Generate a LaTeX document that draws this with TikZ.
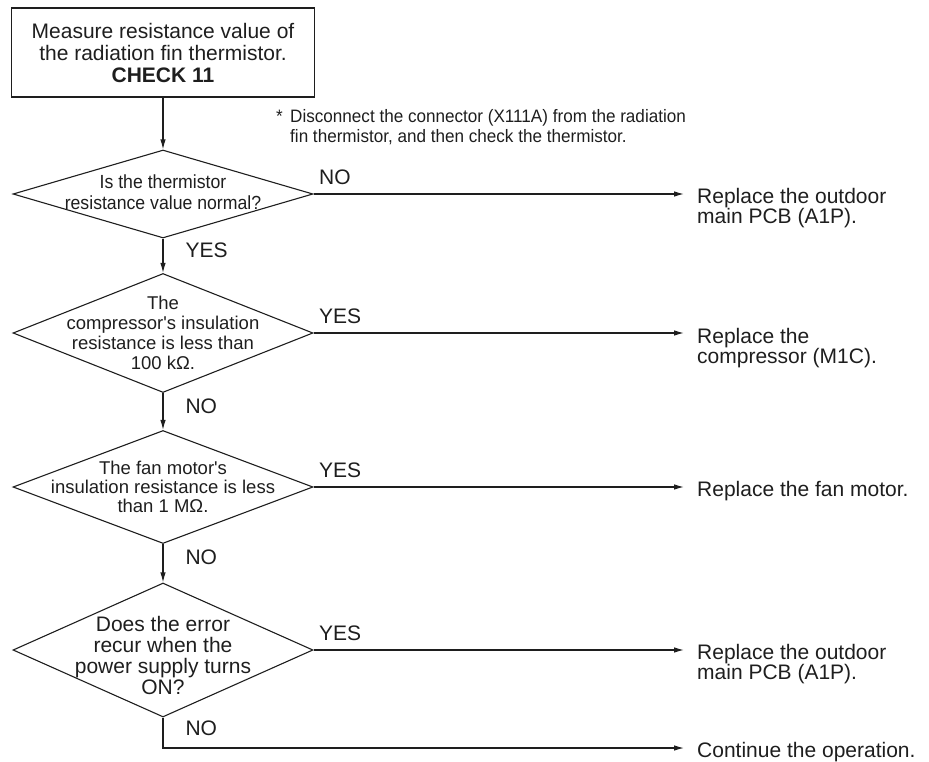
\documentclass[tikz,border=0pt]{standalone}
\usepackage{fontspec}
\setmainfont{Liberation Sans}
\newfontfamily\narrowfont[FakeStretch=0.93]{Liberation Sans}
\newfontfamily\notefont[FakeStretch=0.95]{Liberation Sans}
\usepackage{xcolor}
\usepackage{tikz}
\usetikzlibrary{arrows.meta, positioning, shapes.geometric}
\definecolor{InkDark}{RGB}{30, 30, 30}
\tikzset{
  stepbox/.style={draw=InkDark, line width=1.1pt, minimum width=303pt, minimum height=89pt,
    inner sep=0pt, align=center, text=InkDark, font=\fontsize{21}{22}\selectfont},
  decision/.style={draw=InkDark, line width=1.1pt, diamond, minimum width=300pt, inner sep=0pt},
  dtext/.style={align=center, inner sep=0pt, text=InkDark},
  flow/.style={draw=InkDark, line width=1.1pt, -{Latex[length=10pt, width=5.5pt]}},
  lbl/.style={font=\fontsize{21}{21}\selectfont, inner sep=0pt, text=InkDark},
  result/.style={anchor=north west, inner xsep=13pt, inner ysep=0pt, align=left,
    text=InkDark, font=\fontsize{21}{20}\selectfont}
}

\begin{document}
\begin{tikzpicture}[x=1pt, y=-1pt]
      \useasboundingbox (0,0) rectangle (929,762);
      \node[stepbox] (check) at (163,52.5)
            {Measure resistance value of\\the radiation fin thermistor.\\\textbf{CHECK 11}};
      \node[anchor=north west, inner sep=0pt, align=left, text=InkDark,
            font=\notefont\fontsize{18}{20}\selectfont] (note) at (276,109)
            {\makebox[14pt][l]{*}Disconnect the connector (X111A) from the radiation\\\hspace*{14pt}fin thermistor, and then check the thermistor.};
      \node[decision, minimum height=88pt,
            label={[dtext, font=\narrowfont\fontsize{19}{21}\selectfont, yshift=2pt]center:Is the thermistor\\resistance value normal?}]
            (q1) at (163,194) {};
      \node[decision, minimum height=119pt,
            label={[dtext, font=\fontsize{18.5}{20}\selectfont]center:The\\compressor\textquotesingle s insulation\\resistance is less than\\100 kΩ.}]
            (q2) at (163,333) {};
      \node[decision, minimum height=113pt,
            label={[dtext, font=\fontsize{18.5}{19}\selectfont]center:The fan motor\textquotesingle s\\insulation resistance is less\\than 1 MΩ.}]
            (q3) at (163,487) {};
      \node[decision, minimum height=134pt,
            label={[dtext, font=\fontsize{21}{21}\selectfont, yshift=-5pt]center:Does the error\\recur when the\\power supply turns\\ON?}]
            (q4) at (163,650) {};
      \node[result] (r1) at (684,188) {Replace the outdoor\\main PCB (A1P).};
      \node[result] (r2) at (684,328) {Replace the\\compressor (M1C).};
      \node[result] (r3) at (684,481) {Replace the fan motor.};
      \node[result] (r4) at (684,644) {Replace the outdoor\\main PCB (A1P).};
      \node[result] (r5) at (684,742) {Continue the operation.};

      \draw[flow] (check) -- (q1);
      \draw[flow] (q1) -- node[lbl, pos=0.35, anchor=west, xshift=22pt] {YES} (q2);
      \draw[flow] (q2) -- node[lbl, pos=0.35, anchor=west, xshift=22pt] {NO} (q3);
      \draw[flow] (q3) -- node[lbl, pos=0.35, anchor=west, xshift=22pt] {NO} (q4);
      \draw[flow] (q1.east) -- node[lbl, pos=0, anchor=south west, xshift=5pt, yshift=9pt] {NO} (q1.east -| r1.west);
      \draw[flow] (q2.east) -- node[lbl, pos=0, anchor=south west, xshift=5pt, yshift=9pt] {YES} (q2.east -| r2.west);
      \draw[flow] (q3.east) -- node[lbl, pos=0, anchor=south west, xshift=5pt, yshift=9pt] {YES} (q3.east -| r3.west);
      \draw[flow] (q4.east) -- node[lbl, pos=0, anchor=south west, xshift=5pt, yshift=9pt] {YES} (q4.east -| r4.west);
      \draw[flow] (q4.south) |- node[lbl, pos=0.17, anchor=west, xshift=22pt] {NO} ([yshift=-6pt]r5.north west);
\end{tikzpicture}
\end{document}
